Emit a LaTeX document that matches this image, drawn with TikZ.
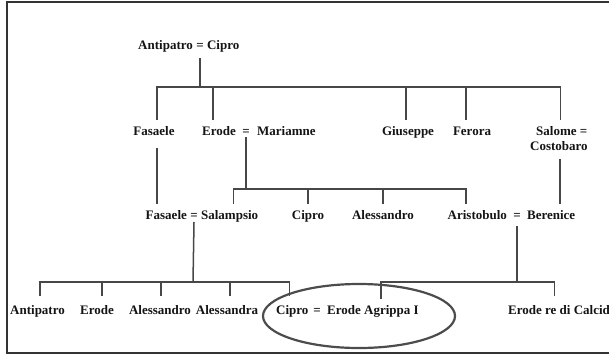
\documentclass[tikz,border=0pt]{standalone}
\usepackage{fontspec}
\setmainfont{Liberation Serif}
\begin{document}
\begin{tikzpicture}[x=1pt,y=-1pt,
  person/.style={font=\fontsize{13}{15}\selectfont\bfseries, text=black!92,
    inner sep=0pt, text height=9pt, text depth=3pt, outer ysep=6pt},
  link/.style={draw=black!72, line width=1.5pt},
  frame/.style={draw=black!80, line width=1.6pt},
  ring/.style={draw=black!70, line width=2.2pt}]
\useasboundingbox (0,0) rectangle (609,356);
\draw[frame] (625,2) -- (7,2) -- (7,353) -- (625,353);

% generation 1
\node[person, anchor=base] (eq0) at (200,49) {=};
\node[person, anchor=base east] (antipatro0) at ([xshift=-3pt]eq0.base west) {Antipatro};
\node[person, anchor=base west] (cipro0) at ([xshift=3pt]eq0.base east) {Cipro};

% generation 2
\node[person, anchor=base] (fas1) at (154,135) {Fasaele};
\node[person, anchor=base] (eq1) at (246,135) {=};
\node[person, anchor=base east] (erode1) at ([xshift=-6pt]eq1.base west) {Erode};
\node[person, anchor=base west] (mariamne) at ([xshift=7pt]eq1.base east) {Mariamne};
\node[person, anchor=base] (gius) at (408,135) {Giuseppe};
\node[person, anchor=base] (ferora) at (472,135) {Ferora};
\node[person, anchor=base west] (salome) at (536,135) {Salome =};
\node[person, anchor=base west] (costobaro) at (530,150) {Costobaro};

% generation 3
\node[person, anchor=base] (eq2) at (194,219) {=};
\node[person, anchor=base east] (fas2) at ([xshift=-3pt]eq2.base west) {Fasaele};
\node[person, anchor=base west] (salampsio) at ([xshift=3pt]eq2.base east) {Salampsio};
\node[person, anchor=base] (cipro2) at (308,219) {Cipro};
\node[person, anchor=base] (alessandro2) at (383,219) {Alessandro};
\node[person, anchor=base] (eq3) at (517,219) {=};
\node[person, anchor=base east] (aristobulo) at ([xshift=-6pt]eq3.base west) {Aristobulo};
\node[person, anchor=base west] (berenice) at ([xshift=6pt]eq3.base east) {Berenice};

% generation 4
\node[person, anchor=base west] (antipatro4) at (10,314) {Antipatro};
\node[person, anchor=base] (erode4) at (97,314) {Erode};
\node[person, anchor=base] (alessandro4) at (160,314) {Alessandro};
\node[person, anchor=base] (alessandra4) at (227,314) {Alessandra};
\node[person, anchor=base west] (cipro4) at (276,314) {Cipro};
\node[person, anchor=base] (eq4) at (317,314) {=};
\node[person, anchor=base west] (agrippa) at (327,314) {Erode Agrippa I};
\node[person, anchor=base west] (calcide) at (508,314) {Erode re di Calcide};

% bar coordinates
\coordinate (bar1) at (200,87);
\coordinate (bar2) at (246,189);
\coordinate (bar3) at (193,282);
\coordinate (bar4) at (517,282);

% Antipatro = Cipro -> children
\draw[link] (eq0.south) -- (bar1);
\draw[link] ([xshift=3pt]fas1.north) |- ([xshift=-1.5pt]salome.north |- bar1) -- ([xshift=-1.5pt]salome.north);
\draw[link] ([xshift=-6pt]erode1.north |- bar1) -- ([xshift=-6pt]erode1.north);
\draw[link] ([xshift=-2pt]gius.north |- bar1) -- ([xshift=-2pt]gius.north);
\draw[link] ([xshift=-6pt]ferora.north |- bar1) -- ([xshift=-6pt]ferora.north);

% Fasaele line, Salome line
\draw[link, shorten <=4pt] ([xshift=3pt]fas1.south) -- ([xshift=3pt]fas1.south |- fas2.north);
\draw[link] ([xshift=1pt]costobaro.south) -- ([xshift=1pt]costobaro.south |- berenice.north);

% Erode = Mariamne -> children
\draw[link] ([yshift=-2pt]eq1.base) -- (bar2);
\draw[link] ([xshift=4pt]salampsio.north) |- ([xshift=-11.5pt]aristobulo.north |- bar2) -- ([xshift=-11.5pt]aristobulo.north);
\draw[link] (cipro2.north |- bar2) -- (cipro2.north);
\draw[link] (alessandro2.north |- bar2) -- (alessandro2.north);

% Fasaele = Salampsio -> children
\draw[link] ([yshift=-3pt]eq2.base) -- (bar3);
\draw[link, shorten <=3pt, shorten >=3pt] ([xshift=2.5pt]antipatro4.north) |- ([xshift=-3pt]cipro4.north |- bar3) -- ([xshift=-3pt]cipro4.north);
\draw[link, shorten >=3pt] ([xshift=5pt]erode4.north |- bar3) -- ([xshift=5pt]erode4.north);
\draw[link, shorten >=3pt] ([xshift=1pt]alessandro4.north |- bar3) -- ([xshift=1pt]alessandro4.north);
\draw[link, shorten >=3pt] ([xshift=3pt]alessandra4.north |- bar3) -- ([xshift=3pt]alessandra4.north);

% Aristobulo = Berenice -> children
\draw[link] ([yshift=-7pt]eq3.base) -- (bar4);
\draw[link, shorten >=3pt] ([xshift=8pt]agrippa.north) |- ([xshift=-7.5pt]calcide.north |- bar4) -- ([xshift=-7.5pt]calcide.north);

% highlight ring
\draw[ring] (359,316) ellipse [x radius=96, y radius=32];
\end{tikzpicture}
\end{document}
